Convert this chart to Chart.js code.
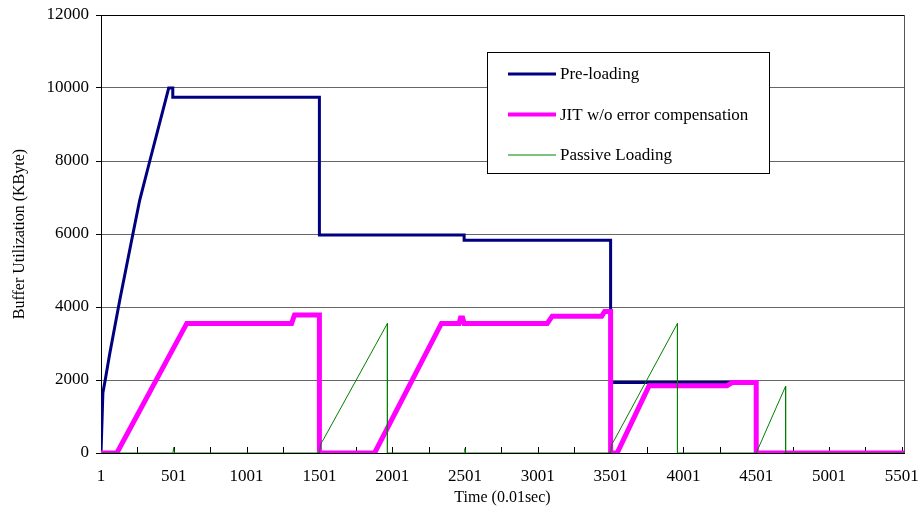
<!DOCTYPE html>
<html>
<head>
<meta charset="utf-8">
<script src="https://cdn.jsdelivr.net/npm/chart.js@4.4.1/dist/chart.umd.min.js"></script>
<style>
  html, body { margin: 0; padding: 0; background: #fff; }
  #wrap { width: 920px; height: 513px; }
</style>
</head>
<body>
<div id="wrap"><canvas id="c" width="920" height="513"></canvas></div>
<script>
// Buffer utilization over time (units of 0.01 sec), three loading strategies.
const seriesNames = ['Pre-loading', 'JIT w/o error compensation', 'Passive Loading'];

const preTimes  = [1, 14, 30, 60, 130, 220, 267, 336, 466, 494, 494, 1501, 1501, 2495, 2495, 3501, 3501, 4501, 4501, 5516];
const preValues = [0, 1650, 2000, 2700, 4190, 6000, 6930, 8000, 10000, 10000, 9750, 9750, 5970, 5970, 5830, 5830, 1930, 1930, 0, 0];

const jitTimes  = [1, 110, 590, 1310, 1330, 1501, 1501, 1880, 2339, 2460, 2470, 2485, 2495, 3066, 3100, 3440, 3460, 3501, 3501, 3546, 3765, 4300, 4335, 4501, 4501, 5516];
const jitValues = [0, 0, 3550, 3550, 3780, 3780, 0, 0, 3550, 3550, 3700, 3700, 3550, 3550, 3750, 3750, 3880, 3880, 0, 0, 1840, 1840, 1930, 1930, 0, 0];

const passiveTimes  = [1, 495, 500, 505, 1501, 1510, 1530, 1968, 1968, 2495, 2500, 2505, 3501, 3510, 3530, 3960, 3960, 4501, 4703, 4703, 5516];
const passiveValues = [0, 0, 150, 0, 0, 250, 380, 3550, 0, 0, 120, 0, 0, 250, 380, 3550, 0, 0, 1830, 0, 0];

const xTickValues = [1, 251, 501, 751, 1001, 1251, 1501, 1751, 2001, 2251, 2501, 2751, 3001, 3251, 3501, 3751, 4001, 4251, 4501, 4751, 5001, 5251, 5501];
const xLabelStep = 500;
const yTickValues = [0, 2000, 4000, 6000, 8000, 10000, 12000];

const colors = ['#000080', '#ff00ff', '#008000'];
const SERIF = "'Liberation Serif', 'Times New Roman', serif";

function toPoints(ts, vs) { return ts.map((t, i) => ({ x: t, y: vs[i] })); }

const datasets = [
  { label: seriesNames[0], data: toPoints(preTimes, preValues), borderColor: colors[0], borderWidth: 3, order: 3, legendWidth: 3 },
  { label: seriesNames[1], data: toPoints(jitTimes, jitValues), borderColor: colors[1], borderWidth: 5, order: 2, legendWidth: 4 },
  { label: seriesNames[2], data: toPoints(passiveTimes, passiveValues), borderColor: colors[2], borderWidth: 1, order: 1, legendWidth: 1 }
].map(d => Object.assign(d, { pointRadius: 0, tension: 0, fill: false, borderJoinStyle: 'miter', borderCapStyle: 'butt' }));

// Tick marks on the time axis point up into the plot; frame edge on the right; boxed legend.
const decor = {
  id: 'decor',
  beforeDatasetsDraw(chart) {
    const { ctx, chartArea: a, scales: { x } } = chart;
    ctx.save();
    ctx.strokeStyle = '#000';
    ctx.lineWidth = 1;
    for (const t of x.ticks) {
      const px = Math.round(x.getPixelForValue(t.value)) + 0.5;
      ctx.beginPath();
      ctx.moveTo(px, a.bottom);
      ctx.lineTo(px, a.bottom - 6);
      ctx.stroke();
    }
    ctx.strokeStyle = '#555';
    ctx.beginPath();
    ctx.moveTo(a.right + 0.5, a.top);
    ctx.lineTo(a.right + 0.5, a.bottom);
    ctx.stroke();
    ctx.restore();
  },
  afterDraw(chart) {
    const { ctx } = chart;
    const box = { left: 487.5, top: 52.5, width: 282, height: 121 };
    ctx.save();
    ctx.fillStyle = '#fff';
    ctx.fillRect(box.left, box.top, box.width, box.height);
    ctx.strokeStyle = '#000';
    ctx.lineWidth = 1;
    ctx.strokeRect(box.left, box.top, box.width, box.height);
    ctx.font = '17px ' + SERIF;
    ctx.textBaseline = 'middle';
    ctx.fillStyle = '#000';
    chart.data.datasets.forEach((ds, i) => {
      const y = 74 + i * 40.5;
      ctx.strokeStyle = ds.borderColor;
      ctx.lineWidth = ds.legendWidth;
      ctx.beginPath();
      ctx.moveTo(508, y);
      ctx.lineTo(556, y);
      ctx.stroke();
      ctx.fillText(ds.label, 560, y + 1);
    });
    ctx.restore();
  }
};

new Chart(document.getElementById('c'), {
  type: 'line',
  data: { datasets },
  plugins: [decor],
  options: {
    responsive: false,
    animation: false,
    devicePixelRatio: 1,
    layout: { padding: { top: 15, right: 16, left: 0, bottom: 0 } },
    plugins: { legend: { display: false }, tooltip: { enabled: false } },
    scales: {
      x: {
        type: 'linear',
        min: 1,
        max: 5516,
        afterBuildTicks: s => { s.ticks = xTickValues.map(v => ({ value: v })); },
        afterFit: s => { s.height = 60; s.paddingLeft = 0; s.paddingRight = 0; },
        ticks: {
          autoSkip: false,
          maxRotation: 0,
          padding: 13,
          color: '#000',
          font: { family: SERIF, size: 17 },
          callback: v => ((v - 1) % xLabelStep === 0 ? String(v) : '')
        },
        grid: { display: true, drawOnChartArea: false, drawTicks: false },
        border: { display: true, color: '#000', width: 1 },
        title: {
          display: true,
          text: 'Time (0.01sec)',
          color: '#000',
          font: { family: SERIF, size: 16 },
          padding: { top: 0, bottom: 6 }
        }
      },
      y: {
        type: 'linear',
        min: 0,
        max: 12000,
        afterBuildTicks: s => { s.ticks = yTickValues.map(v => ({ value: v })); },
        afterFit: s => { s.width = 101; s.paddingTop = 0; s.paddingBottom = 0; },
        ticks: {
          padding: 7,
          color: '#000',
          font: { family: SERIF, size: 17 },
          callback: v => String(v)
        },
        grid: {
          color: c => (c.tick && c.tick.value === 12000 ? '#000' : '#666'),
          tickColor: '#000',
          tickLength: 5,
          drawTicks: true
        },
        border: { display: true, color: '#000', width: 1 },
        title: {
          display: true,
          text: 'Buffer Utilization (KByte)',
          color: '#000',
          font: { family: SERIF, size: 16 },
          padding: { top: 10, bottom: 0 }
        }
      }
    }
  }
});
</script>
</body>
</html>
